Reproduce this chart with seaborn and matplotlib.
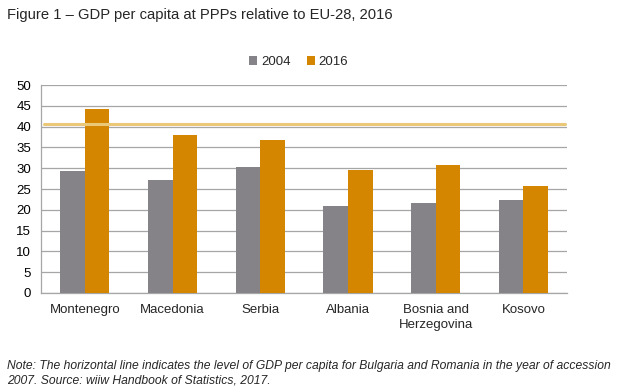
import matplotlib
matplotlib.use("Agg")
import matplotlib.pyplot as plt
import seaborn as sns
import pandas as pd
import numpy as np

countries = ["Montenegro", "Macedonia", "Serbia", "Albania", "Bosnia and\nHerzegovina", "Kosovo"]
values_2004 = [29.4, 27.2, 30.3, 21.0, 21.7, 22.3]
values_2016 = [44.2, 38.1, 36.8, 29.6, 30.8, 25.8]
years = ["2004", "2016"]
accession_level = 40.7
title = "Figure 1 \u2013 GDP per capita at PPPs relative to EU-28, 2016"
note = ("Note: The horizontal line indicates the level of GDP per capita for Bulgaria and Romania in the year of accession\n"
        "2007. Source: wiiw Handbook of Statistics, 2017.")

df = pd.DataFrame({
    "country": countries * 2,
    "year": [years[0]] * len(countries) + [years[1]] * len(countries),
    "value": values_2004 + values_2016,
})

sns.set_style("white")
plt.rcParams["font.family"] = ["Liberation Sans", "DejaVu Sans"]

fig = plt.figure(figsize=(6.2, 3.92), dpi=100)
ax = fig.add_axes([0.066, 0.2526, 0.849, 0.5304])

palette = {"2004": "#858387", "2016": "#d48600"}
sns.barplot(data=df, x="country", y="value", hue="year", palette=palette,
            width=0.56, saturation=1, ax=ax, zorder=3, edgecolor="none")

ax.set_xlim(-0.5, len(countries) - 0.5)
ax.set_ylim(0, 50)
ax.set_yticks(np.arange(0, 51, 5))
ax.yaxis.grid(True, color="#a6a6a6", linewidth=0.9, zorder=0)
ax.set_axisbelow(True)
ax.axhline(accession_level, xmin=0.005, xmax=0.995, color="#ebc878", linewidth=2.2, zorder=4)

for s in ["top", "right"]:
    ax.spines[s].set_visible(False)
for s in ["left", "bottom"]:
    ax.spines[s].set_color("#a6a6a6")
    ax.spines[s].set_linewidth(0.9)

ax.set_xlabel("")
ax.set_ylabel("")
ax.tick_params(axis="y", length=0, labelsize=9.5, pad=7, colors="#000000")
ax.tick_params(axis="x", length=0, labelsize=9.5, pad=8)
ax.set_xticks(np.arange(-0.5, len(countries), 1.0), minor=True)
ax.tick_params(axis="x", which="minor", length=4, color="#a6a6a6", width=0.9)
for lbl in ax.get_xticklabels():
    lbl.set_linespacing(1.3)

leg = ax.legend(loc="lower center", bbox_to_anchor=(0.49, 1.025), ncol=2, frameon=False,
                fontsize=9.5, handlelength=0.6, handleheight=0.6, handletextpad=0.3,
                columnspacing=1.2)

fig.text(0.011, 0.962, title, fontsize=10.6, ha="left", va="center")
fig.text(0.011, 0.047, note, fontsize=8.75, style="italic", ha="left", va="center", linespacing=1.25)

fig.savefig("out.png", dpi=100)
